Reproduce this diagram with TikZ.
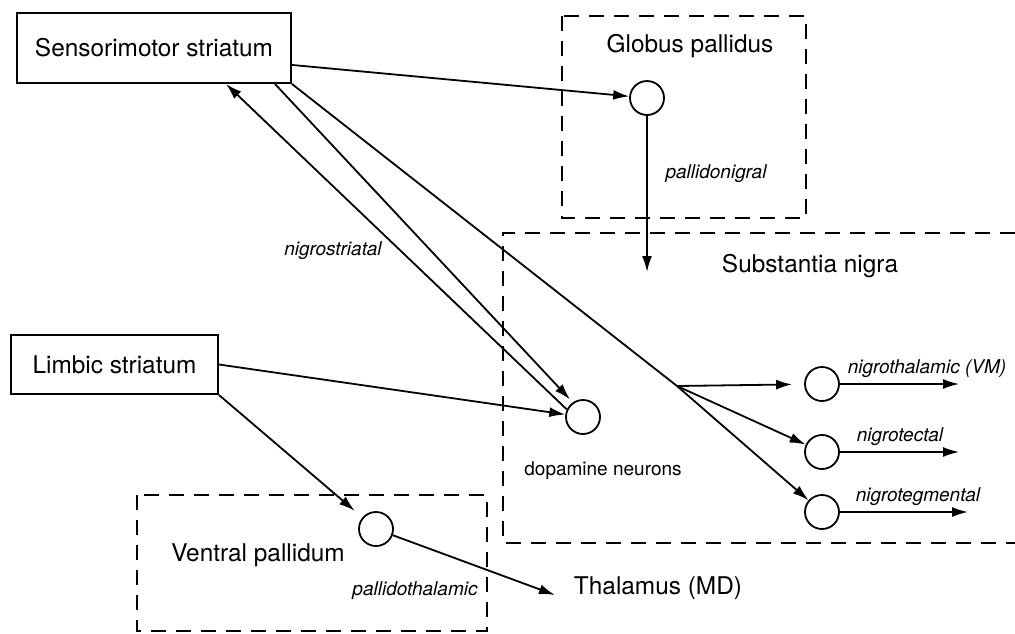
\documentclass[tikz,border=0pt]{standalone}
\usepackage{fontspec}
\setmainfont{TeX Gyre Heros}
\usetikzlibrary{arrows.meta}
\begin{document}
\begin{tikzpicture}[x=0.5pt,y=-0.5pt,
  box/.style={draw,line width=1pt,inner sep=0pt,font=\fontsize{12.2}{14}\selectfont},
  region/.style={draw,line width=0.7pt,dash pattern=on 7.5pt off 5pt},
  cell/.style={circle,draw,line width=0.9pt,minimum size=17pt,inner sep=0pt},
  lbl/.style={font=\fontsize{12.2}{14}\selectfont},
  small/.style={font=\fontsize{9.5}{11}\selectfont},
  tract/.style={font=\fontsize{9.5}{11}\selectfont\itshape},
  conn/.style={line width=0.9pt,-{Latex[length=8pt,width=5pt]}}]
  \useasboundingbox (0,0) rectangle (1015,633);

  \draw[region] (562,16) rectangle (806,218);
  \draw[region] (1015,233) -| (503,543) -- (1015,543);
  \draw[region] (137,495) rectangle (487,631);

  \node[box,minimum width=137pt,minimum height=35pt] (sms) at (154,48) {Sensorimotor striatum};
  \node[box,minimum width=103.5pt,minimum height=29.5pt] (lims) at (114.5,364.5) {Limbic striatum};

  \node[lbl] (gplbl) at (690,46) {Globus pallidus};
  \node[lbl] (snlbl) at (810,266) {Substantia nigra};
  \node[lbl] (vplbl) at (258,555) {Ventral pallidum};
  \node[lbl] (thal) at (658,588) {Thalamus (MD)};
  \node[small] (dalbl) at (603,471) {dopamine neurons};

  \node[cell] (gpc) at (647,98) {};
  \node[cell] (dac) at (583,417) {};
  \node[cell] (vpc) at (376,529) {};
  \node[cell] (thc) at (822,384) {};
  \node[cell] (tcc) at (822,452) {};
  \node[cell] (tgc) at (822,512) {};

  \node[tract] (pn) at (716,174) {pallidonigral};
  \node[tract] (ns) at (333,251) {nigrostriatal};
  \node[tract] (pt) at (415,591) {pallidothalamic};
  \node[tract] (nth) at (927,369) {nigrothalamic (VM)};
  \node[tract] (ntc) at (900,437) {nigrotectal};
  \node[tract] (ntg) at (918,497) {nigrotegmental};

  \coordinate (branch) at (677,386);
  \coordinate (gpout) at (647,272);
  \coordinate (thalin) at (555,595);
  \coordinate (out1) at (959,384);
  \coordinate (out2) at (959,452);
  \coordinate (out3) at (968,512);

  \draw[conn] (sms.-7) -- (gpc);
  \draw[conn] (gpc) -- (gpout);
  \draw[conn] (dac.155) -- ([xshift=36pt]sms.south);
  \draw[conn,shorten >=2pt] ([xshift=60.5pt]sms.south) -- (dac.125);
  \draw[line width=0.9pt] (sms.south east) -- (branch);
  \draw[conn,shorten >=6pt] (branch) -- (thc);
  \draw[conn] (branch) -- (tcc);
  \draw[conn] (branch) -- (tgc);
  \draw[conn] (thc) -- (out1);
  \draw[conn] (tcc) -- (out2);
  \draw[conn] (tgc) -- (out3);
  \draw[conn] (lims.east) -- (dac);
  \draw[conn,shorten >=5pt] (lims.south east) -- (vpc);
  \draw[conn] (vpc) -- (thalin);
\end{tikzpicture}
\end{document}
